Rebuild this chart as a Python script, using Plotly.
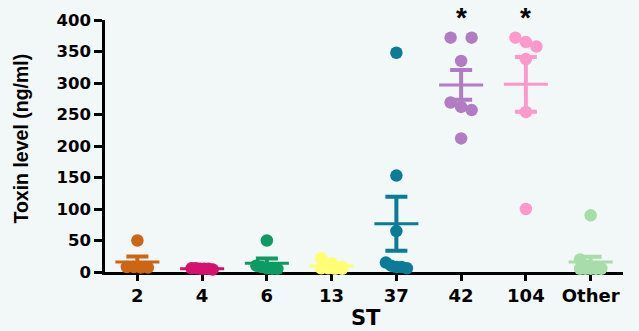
import numpy as np
import plotly.graph_objects as go

# ---- data ----
categories = ["2", "4", "6", "13", "37", "42", "104", "Other"]
st2 = [50, 8, 8, 7, 7]
st4 = [5, 6, 5, 4, 6, 5]
st6 = [50, 10, 8, 6, 5, 5]
st13 = [22, 14, 8, 6, 6, 5, 5]
st37 = [348, 153, 65, 15, 10, 8, 8, 6]
st42 = [372, 372, 335, 269, 262, 257, 212]
st104 = [372, 365, 358, 338, 254, 100]
st_other = [90, 20, 10, 8, 6, 5, 5, 5, 5, 5]
groups = [st2, st4, st6, st13, st37, st42, st104, st_other]
colors = ["#CC6614", "#D4116F", "#0B9B63", "#FFFF73", "#0A7C96", "#B27CC4", "#FF99CC", "#A8DCA8"]
significant = ["42", "104"]

BG = "#F2F7F7"
FONT = "Liberation Sans, Arial, sans-serif"
TICKFONT = "DejaVu Sans, Liberation Sans, sans-serif"

# plot area geometry (pixels)
ML, MR, MT, MB = 105, 16, 20, 59
W, H = 639, 331
PLOT_H = H - MT - MB
PX_PER_UNIT_Y = PLOT_H / 400.0
PX_PER_CAT = (W - ML - MR) / 8.0
ROW_PX = 9.0       # values closer than this (px) share a row
HALF_SPREAD = 10.5  # px half-width of a row


def spread(vals):
    order = sorted(range(len(vals)), key=lambda k: -vals[k])
    rows = []
    for k in order:
        if rows and abs(vals[rows[-1][0]] - vals[k]) * PX_PER_UNIT_Y < ROW_PX:
            rows[-1].append(k)
        else:
            rows.append([k])
    res = [0.0] * len(vals)
    for r in rows:
        n = len(r)
        if n > 1:
            offs = np.linspace(-HALF_SPREAD, HALF_SPREAD, n)
            for k, o in zip(r, offs):
                res[k] = o / PX_PER_CAT
    return res


fig = go.Figure()
for i, (vals, col) in enumerate(zip(groups, colors)):
    offs = spread(vals)
    fig.add_trace(go.Scatter(
        x=[i + o for o in offs], y=vals, mode="markers",
        marker=dict(color=col, size=12.5, line=dict(width=0)),
        cliponaxis=False, showlegend=False, hoverinfo="y"))

for i, (vals, col) in enumerate(zip(groups, colors)):
    a = np.array(vals, dtype=float)
    m = a.mean()
    sem = a.std(ddof=1) / np.sqrt(len(a))
    fig.add_trace(go.Scatter(
        x=[i - 0.34, i + 0.34], y=[m, m], mode="lines",
        line=dict(color=col, width=3), cliponaxis=False,
        showlegend=False, hoverinfo="skip"))
    fig.add_trace(go.Scatter(
        x=[i], y=[m], mode="markers", marker=dict(size=0.1, color=col),
        error_y=dict(type="data", array=[sem], color=col, thickness=4, width=11),
        cliponaxis=False, showlegend=False, hoverinfo="skip"))

for c in significant:
    fig.add_annotation(x=categories.index(c), y=1 + 3.0 / PLOT_H, xref="x", yref="paper",
                       text="<b>*</b>", showarrow=False, yanchor="middle",
                       font=dict(family=FONT, size=28, color="black"))

fig.add_annotation(x=-0.162, y=0.53, xref="paper", yref="paper",
                   text="<b>Toxin level (ng/ml)</b>", textangle=-90, showarrow=False,
                   xanchor="center", yanchor="middle",
                   font=dict(family=FONT, size=19.5, color="black"))

fig.add_annotation(x=0.503, y=-46.0 / PLOT_H, xref="paper", yref="paper",
                   text="<b>ST</b>", showarrow=False,
                   xanchor="center", yanchor="middle",
                   font=dict(family=TICKFONT, size=21, color="black"))

fig.update_layout(
    width=W, height=H,
    margin=dict(l=ML, r=MR, t=MT, b=MB),
    paper_bgcolor=BG, plot_bgcolor=BG,
    font=dict(family=FONT, color="black"),
    showlegend=False,
)
fig.update_xaxes(
    range=[-0.5, 7.5], tickmode="array", tickvals=list(range(len(categories))),
    ticktext=categories, showgrid=False, zeroline=False,
    showline=True, linecolor="black", linewidth=2.5,
    ticks="outside", ticklen=6, tickwidth=2.5, tickcolor="black",
    tickfont=dict(family=TICKFONT, size=18, weight="bold"),
    layer="below traces", automargin=False,
)
fig.update_yaxes(
    range=[0, 400], tickmode="linear", tick0=0, dtick=50,
    showgrid=False, zeroline=False,
    showline=True, linecolor="black", linewidth=2.5,
    ticks="outside", ticklen=8, tickwidth=2.5, tickcolor="black",
    tickfont=dict(family=TICKFONT, size=16.5, weight="bold"),
    layer="below traces", automargin=False,
)

fig.write_html(
    "out.html",
    config={"displayModeBar": False},
    post_script="document.body.style.margin='0';document.body.style.overflow='hidden';"
                "document.body.style.background='" + BG + "';",
)
